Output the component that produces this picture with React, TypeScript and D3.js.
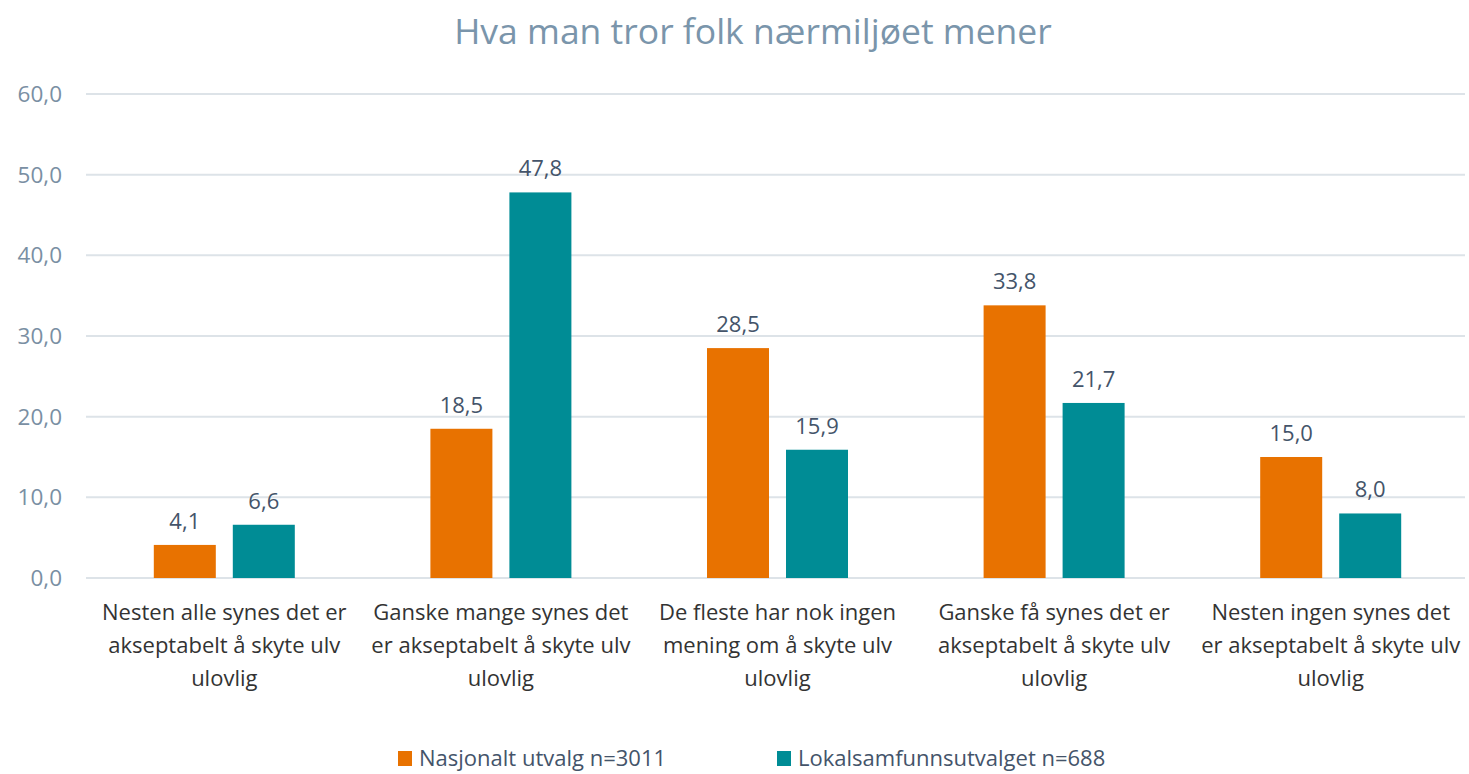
import React, { useEffect, useRef } from "react";
import * as d3 from "d3";

const categories = [
  ["Nesten alle synes det er", "akseptabelt å skyte ulv", "ulovlig"],
  ["Ganske mange synes det", "er akseptabelt å skyte ulv", "ulovlig"],
  ["De fleste har nok ingen", "mening om å skyte ulv", "ulovlig"],
  ["Ganske få synes det er", "akseptabelt å skyte ulv", "ulovlig"],
  ["Nesten ingen synes det", "er akseptabelt å skyte ulv", "ulovlig"],
];
const nasjonalt = [4.1, 18.5, 28.5, 33.8, 15.0];
const lokalsamfunn = [6.6, 47.8, 15.9, 21.7, 8.0];
const seriesNames = ["Nasjonalt utvalg n=3011", "Lokalsamfunnsutvalget n=688"];
const colors = ["#E87200", "#008C95"];
const yTicks = [0, 10, 20, 30, 40, 50, 60];

const W = 1469;
const H = 774;
const FONT = "'Open Sans', 'Noto Sans', sans-serif";

export default function App() {
  const svgRef = useRef<SVGSVGElement>(null);

  useEffect(() => {
    document.body.style.margin = "0";
    const svg = d3.select(svgRef.current);
    svg.selectAll("*").remove();

    const left = 86, right = 1469, top = 94, bottom = 578;

    const x = d3.scaleBand<number>()
      .domain(categories.map((_, i) => i))
      .range([left, right]);
    const y = d3.scaleLinear().domain([0, 60]).range([bottom, top]);

    const barW = 62, gap = 17;

    svg.append("text")
      .attr("x", 753).attr("y", 44)
      .attr("text-anchor", "middle")
      .attr("font-family", FONT)
      .attr("font-size", 35.5)
      .attr("fill", "#7A95AB")
      .text("Hva man tror folk nærmiljøet mener");

    // gridlines
    svg.selectAll("line.grid")
      .data(yTicks)
      .join("line")
      .attr("class", "grid")
      .attr("x1", left).attr("x2", 1465)
      .attr("y1", d => y(d)).attr("y2", d => y(d))
      .attr("stroke", "#DDE3E8")
      .attr("stroke-width", 2);

    svg.selectAll("text.ytick")
      .data(yTicks)
      .join("text")
      .attr("class", "ytick")
      .attr("x", 62).attr("y", d => y(d))
      .attr("dy", "0.35em")
      .attr("text-anchor", "end")
      .attr("font-family", FONT)
      .attr("font-size", 22.5)
      .attr("fill", "#7A8FA3")
      .text(d => d.toFixed(1).replace(".", ","));

    const series = [nasjonalt, lokalsamfunn];
    series.forEach((vals, s) => {
      const xOff = s === 0 ? -gap / 2 - barW : gap / 2;
      svg.append("g")
        .selectAll("rect")
        .data(vals)
        .join("rect")
        .attr("x", (_, i) => x(i)! + x.bandwidth() / 2 + xOff)
        .attr("width", barW)
        .attr("y", d => y(d))
        .attr("height", d => y(0) - y(d))
        .attr("fill", colors[s]);
      svg.append("g")
        .selectAll("text")
        .data(vals)
        .join("text")
        .attr("x", (_, i) => x(i)! + x.bandwidth() / 2 + xOff + barW / 2)
        .attr("y", d => y(d) - 16)
        .attr("text-anchor", "middle")
        .attr("font-family", FONT)
        .attr("font-size", 22)
        .attr("fill", "#44546A")
        .text(d => d.toFixed(1).replace(".", ","));
    });

    // category labels
    const lab = svg.append("g")
      .selectAll("text")
      .data(categories)
      .join("text")
      .attr("x", (_, i) => x(i)! + x.bandwidth() / 2)
      .attr("y", 620)
      .attr("text-anchor", "middle")
      .attr("font-family", FONT)
      .attr("font-size", 22)
      .attr("fill", "#333333");
    lab.selectAll("tspan")
      .data(d => d)
      .join("tspan")
      .attr("x", function () { return (this.parentNode as SVGTextElement).getAttribute("x"); })
      .attr("dy", (_, j) => (j === 0 ? 0 : 33))
      .text(d => d);

    // legend
    const legendX = [398, 777];
    seriesNames.forEach((name, s) => {
      svg.append("rect")
        .attr("x", legendX[s]).attr("y", 751)
        .attr("width", 14).attr("height", 15)
        .attr("fill", colors[s]);
      svg.append("text")
        .attr("x", legendX[s] + 21).attr("y", 766)
        .attr("font-family", FONT)
        .attr("font-size", 22)
        .attr("fill", "#44546A")
        .text(name);
    });
  }, []);

  return <svg ref={svgRef} width={W} height={H} style={{ display: "block" }} />;
}
